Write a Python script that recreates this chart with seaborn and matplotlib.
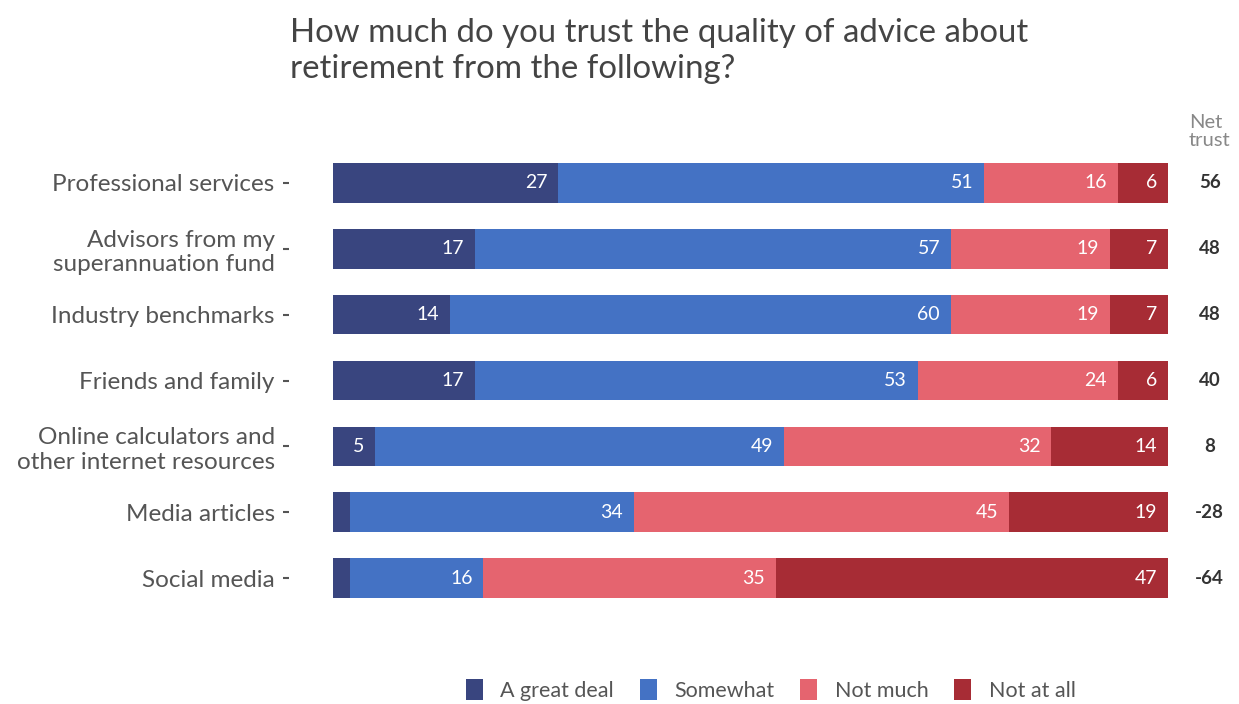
import matplotlib
matplotlib.use("Agg")
import matplotlib.pyplot as plt
import seaborn as sns
import pandas as pd
import numpy as np
from matplotlib.patches import Patch

categories = ["Professional services", "Advisors from my\nsuperannuation fund",
              "Industry benchmarks", "Friends and family",
              "Online calculators and\nother internet resources",
              "Media articles", "Social media"]
series_names = ["A great deal", "Somewhat", "Not much", "Not at all"]
great_deal = [27, 17, 14, 17, 5, 2, 2]
somewhat = [51, 57, 60, 53, 49, 34, 16]
not_much = [16, 19, 19, 24, 32, 45, 35]
not_at_all = [6, 7, 7, 6, 14, 19, 47]
net_trust = [56, 48, 48, 40, 8, -28, -64]

colors = ["#39457f", "#4472c4", "#e5646f", "#a72c35"]

sns.set_theme(style="white")
plt.rcParams['font.family'] = ['Lato', 'DejaVu Sans']

fig = plt.figure(figsize=(12.39, 7.04), dpi=100)
ax = fig.add_axes([0.2688, 0.132, 0.6739, 0.655])

vals = np.array([great_deal, somewhat, not_much, not_at_all], dtype=float)
cum = np.cumsum(vals, axis=0)
df = pd.DataFrame({"category": categories})
for i in range(3, -1, -1):
    df["v"] = cum[i]
    sns.barplot(data=df, x="v", y="category", color=colors[i], orient="h",
                width=0.6, saturation=1, ax=ax, order=categories, linewidth=0)

for i in range(4):
    for j in range(len(categories)):
        v = vals[i, j]
        if v >= 4:
            ax.text(cum[i, j] - 1.3, j, f"{int(v)}", color="white", ha="right",
                    va="center", fontsize=14)

ax.set_xlim(0, 100)
ax.set_ylim(6.5, -0.5)
ax.set_xlabel("")
ax.set_ylabel("")
ax.set_xticks([])
for s in ["top", "right", "bottom"]:
    ax.spines[s].set_visible(False)
ax.spines["left"].set_position(("outward", 32))
ax.spines["left"].set_visible(False)
ax.tick_params(axis="y", left=True, length=4, width=1.5, color="#555555",
               labelsize=17.5, labelcolor="#555555", pad=6)

for j, n in enumerate(net_trust):
    ax.text(105, j, f"{n}", ha="center", va="center", fontsize=13.5,
            color="#333333", fontweight="bold")
ax.text(102.5, -0.52, "Net\ntrust", ha="left", va="bottom", fontsize=14.5,
        color="#888888", linespacing=1.05)

fig.text(0.234, 0.975, "How much do you trust the quality of advice about\nretirement from the following?",
         ha="left", va="top", fontsize=23.8, color="#444444", linespacing=1.25)

handles = [Patch(facecolor=c, edgecolor="none") for c in colors]
fig.legend(handles, series_names, loc="center", bbox_to_anchor=(0.622, 0.02),
           ncol=4, frameon=False, fontsize=15.5, labelcolor="#555555",
           handlelength=0.8, handleheight=1.1, handletextpad=0.8, columnspacing=1.2)

fig.savefig("out.png", dpi=100)
